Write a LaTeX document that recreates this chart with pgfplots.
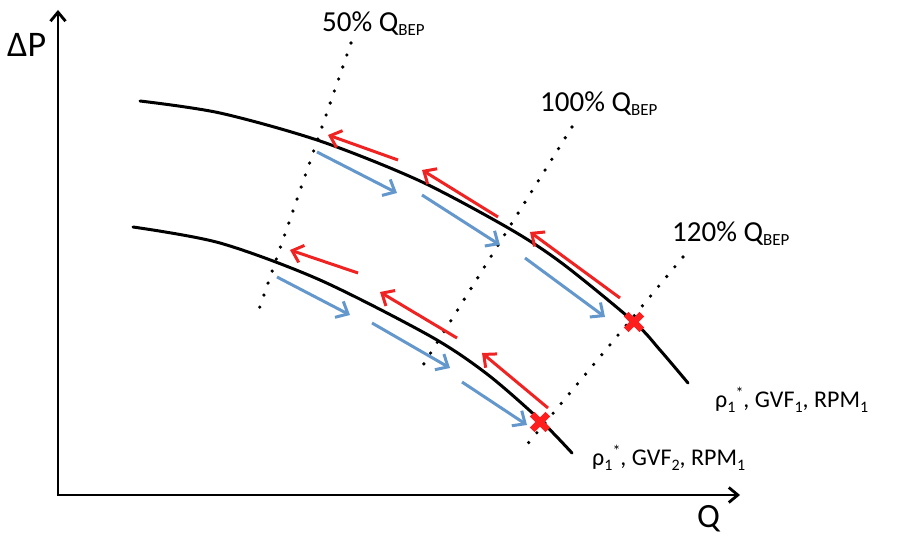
\documentclass[border=0pt]{standalone}
\usepackage{pgfplots}
\pgfplotsset{compat=1.18}
\usepackage{fontspec}
\setmainfont{Carlito}
\usetikzlibrary{arrows.meta}
\definecolor{arrred}{RGB}{240,35,35}
\definecolor{arrblue}{RGB}{100,152,205}
\definecolor{xred}{RGB}{255,30,30}
\newcommand{\bep}{\raisebox{-4pt}{\fontsize{17}{17}\selectfont BEP}}
\newcommand{\sub}[1]{\raisebox{-5pt}{\fontsize{16}{16}\selectfont #1}}
\newcommand{\sups}{\raisebox{9pt}{\fontsize{16}{16}\selectfont *}}
\begin{document}
\begin{tikzpicture}
\begin{axis}[name=ax,width=907pt,height=537pt,scale only axis,
  xmin=0,xmax=907,ymin=0,ymax=537,y dir=reverse,hide axis,clip=false]
% axes
\addplot[black,line width=2.8pt,line join=miter,
  {Straight Barb[length=9pt,width=15pt]}-{Straight Barb[length=9pt,width=15pt]}]
  coordinates {(58,10) (58,495) (740,495)};
% dotted BEP lines
\addplot[black,line width=3.6pt,line cap=round,dash pattern=on 0pt off 12.7pt]
  coordinates {(351,43) (257,315)};
\addplot[black,line width=3.6pt,line cap=round,dash pattern=on 0pt off 12.7pt]
  coordinates {(572,127) (420,370)};
\addplot[black,line width=3.6pt,line cap=round,dash pattern=on 0pt off 12.7pt]
  coordinates {(683,257) (525,447)};
% pump curves
\addplot[black,line width=3pt,smooth,line cap=round] coordinates {
 (140,101) (220,113) (320,141) (420,181) (510,229) (563,264) (634,322) (660,350) (688,383)};
\addplot[black,line width=3pt,smooth,line cap=round] coordinates {
 (133,227) (220,243) (320,280) (430,336) (487,374) (540,420) (572,453)};
\pgfplotsset{redarr/.style={arrred,line width=3pt,-{Straight Barb[length=10pt,width=18pt]}},
             bluearr/.style={arrblue,line width=3pt,-{Straight Barb[length=10pt,width=18pt]}}}
% upper curve arrows
\addplot[redarr] coordinates {(398,160) (328,135)};
\addplot[redarr] coordinates {(498,217) (422,170)};
\addplot[redarr] coordinates {(620,298) (530,232)};
\addplot[bluearr] coordinates {(317,152) (397,193)};
\addplot[bluearr] coordinates {(422,195) (500,245)};
\addplot[bluearr] coordinates {(525,258) (605,317)};
% lower curve arrows
\addplot[redarr] coordinates {(358,273) (290,250)};
\addplot[redarr] coordinates {(457,338) (380,292)};
\addplot[redarr] coordinates {(548,408) (482,353)};
\addplot[bluearr] coordinates {(277,277) (350,315)};
\addplot[bluearr] coordinates {(372,323) (450,368)};
\addplot[bluearr] coordinates {(462,382) (527,425)};
% X marks
\addplot[xred,only marks,mark=x,mark size=11pt,line width=6.5pt] coordinates {(634,322) (540,422)};
% labels
\node[anchor=base west,inner sep=0pt] at (axis cs:7,57) {\fontsize{36}{40}\selectfont ΔP};
\node[anchor=base west,inner sep=0pt] at (axis cs:697,527) {\fontsize{34}{40}\selectfont Q};
\node[anchor=base west,inner sep=0pt] at (axis cs:322,32) {\fontsize{29}{34}\selectfont 50\% Q\bep};
\node[anchor=base west,inner sep=0pt] at (axis cs:540,112) {\fontsize{29}{34}\selectfont 100\% Q\bep};
\node[anchor=base west,inner sep=0pt] at (axis cs:672,242) {\fontsize{29}{34}\selectfont 120\% Q\bep};
\node[anchor=base west,inner sep=0pt] at (axis cs:715,407) {\fontsize{24}{28}\selectfont ρ\sub{1}\sups, GVF\sub{1}, RPM\sub{1}};
\node[anchor=base west,inner sep=0pt] at (axis cs:592,465) {\fontsize{24}{28}\selectfont ρ\sub{1}\sups, GVF\sub{2}, RPM\sub{1}};
\end{axis}
\pgfresetboundingbox
\path[use as bounding box] (ax.south west) rectangle (ax.north east);
\end{tikzpicture}
\end{document}
